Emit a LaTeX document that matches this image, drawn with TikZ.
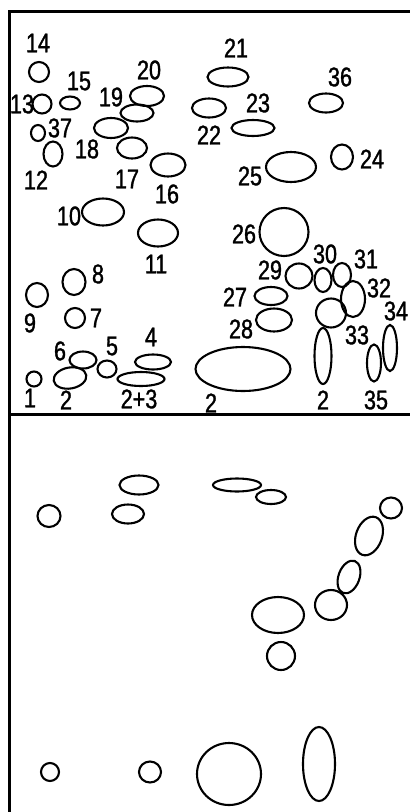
\documentclass[tikz,border=0pt]{standalone}
\usepackage{fontspec}
\setmainfont[FakeStretch=0.8,FakeBold=1.2]{Liberation Sans}
\begin{document}
\begin{tikzpicture}[x=1pt,y=-1pt,
  ell/.style={line width=2.1pt},
  frameline/.style={line width=3pt},
  lbl/.style={inner sep=0pt,font=\fontsize{27}{27}\selectfont}]
\useasboundingbox (0,0) rectangle (410,812);
% frame
\draw[frameline] (410,11.5) -- (9,11.5) -- (9,812);
\draw[frameline] (9,414) -- (410,414);
% upper panel ellipses
\draw[ell] (34,379) ellipse [x radius=7.5pt, y radius=7.5pt];
\draw[ell] (70,378) ellipse [x radius=16.5pt, y radius=10.5pt, rotate=10];
\draw[ell] (83,360) ellipse [x radius=13.5pt, y radius=8.5pt];
\draw[ell] (107,369) ellipse [x radius=9.5pt, y radius=8.5pt];
\draw[ell] (153,362) ellipse [x radius=18pt, y radius=7.5pt];
\draw[ell] (141,379) ellipse [x radius=23.5pt, y radius=7pt];
\draw[ell] (75,318) ellipse [x radius=10pt, y radius=10pt];
\draw[ell] (74,282) ellipse [x radius=11.5pt, y radius=13pt];
\draw[ell] (37,295) ellipse [x radius=11pt, y radius=12pt];
\draw[ell] (103,212) ellipse [x radius=21pt, y radius=13.5pt];
\draw[ell] (158,233) ellipse [x radius=20pt, y radius=13.5pt];
\draw[ell] (53,154) ellipse [x radius=9.5pt, y radius=12.5pt];
\draw[ell] (38,133) ellipse [x radius=7pt, y radius=8pt];
\draw[ell] (42,104) ellipse [x radius=9.5pt, y radius=9.5pt];
\draw[ell] (39,72) ellipse [x radius=10pt, y radius=10pt];
\draw[ell] (70,103) ellipse [x radius=10pt, y radius=6.5pt];
\draw[ell] (111,128) ellipse [x radius=17pt, y radius=10pt];
\draw[ell] (137,113) ellipse [x radius=16.5pt, y radius=8.5pt];
\draw[ell] (147,96) ellipse [x radius=17pt, y radius=10pt];
\draw[ell] (132,148) ellipse [x radius=15pt, y radius=10.5pt];
\draw[ell] (168,165) ellipse [x radius=17.5pt, y radius=11.5pt];
\draw[ell] (228,77) ellipse [x radius=20.5pt, y radius=9.5pt];
\draw[ell] (209,108) ellipse [x radius=17pt, y radius=9.5pt];
\draw[ell] (253,128) ellipse [x radius=21.5pt, y radius=8pt];
\draw[ell] (326,103) ellipse [x radius=17pt, y radius=9.5pt];
\draw[ell] (342,157) ellipse [x radius=11pt, y radius=12.5pt];
\draw[ell] (291,167) ellipse [x radius=25pt, y radius=15pt];
\draw[ell] (284,232) ellipse [x radius=24.5pt, y radius=24pt];
\draw[ell] (299,276) ellipse [x radius=13.5pt, y radius=12.5pt];
\draw[ell] (323,280) ellipse [x radius=8.5pt, y radius=12pt];
\draw[ell] (342,275) ellipse [x radius=9pt, y radius=12pt];
\draw[ell] (353,299) ellipse [x radius=12pt, y radius=18pt];
\draw[ell] (331,313) ellipse [x radius=15pt, y radius=14.5pt];
\draw[ell] (390,348) ellipse [x radius=7pt, y radius=23pt];
\draw[ell] (374,363) ellipse [x radius=7pt, y radius=18.5pt];
\draw[ell] (271,296) ellipse [x radius=16.5pt, y radius=9pt];
\draw[ell] (274,320) ellipse [x radius=18pt, y radius=11.5pt];
\draw[ell] (243,369) ellipse [x radius=47.5pt, y radius=22pt];
\draw[ell] (323,356) ellipse [x radius=8.5pt, y radius=28pt];
% lower panel ellipses
\draw[ell] (49,516) ellipse [x radius=11.5pt, y radius=11pt];
\draw[ell] (128,514) ellipse [x radius=16pt, y radius=9.5pt];
\draw[ell] (139,485) ellipse [x radius=19.5pt, y radius=9.5pt];
\draw[ell] (237,485) ellipse [x radius=24pt, y radius=6.5pt];
\draw[ell] (271,497) ellipse [x radius=15pt, y radius=7pt];
\draw[ell] (391,508) ellipse [x radius=11pt, y radius=10.5pt];
\draw[ell] (369,536) ellipse [x radius=13pt, y radius=20pt, rotate=-20];
\draw[ell] (349,577) ellipse [x radius=10.5pt, y radius=17pt, rotate=-20];
\draw[ell] (331,605) ellipse [x radius=16pt, y radius=15pt];
\draw[ell] (278,615) ellipse [x radius=26pt, y radius=18pt];
\draw[ell] (281,656) ellipse [x radius=14pt, y radius=14pt];
\draw[ell] (50,772) ellipse [x radius=9pt, y radius=9pt];
\draw[ell] (150,772) ellipse [x radius=11pt, y radius=10.5pt];
\draw[ell] (229,774) ellipse [x radius=32pt, y radius=31pt];
\draw[ell] (319,764) ellipse [x radius=16pt, y radius=37pt];
% labels
\node[lbl] (l14) at (38,43) {14};
\node[lbl] (l15) at (79,81) {15};
\node[lbl] (l13) at (22,104) {13};
\node[lbl] (l37) at (60,128) {37};
\node[lbl] (l12) at (36,180) {12};
\node[lbl] (l18) at (87,149) {18};
\node[lbl] (l19) at (111,97) {19};
\node[lbl] (l20) at (149,70) {20};
\node[lbl] (l17) at (127,179) {17};
\node[lbl] (l16) at (167,194) {16};
\node[lbl] (l21) at (236,48) {21};
\node[lbl] (l36) at (340,77) {36};
\node[lbl] (l23) at (258,103) {23};
\node[lbl] (l22) at (209,135) {22};
\node[lbl] (l24) at (372,159) {24};
\node[lbl] (l25) at (250,176) {25};
\node[lbl] (l10) at (69,216) {10};
\node[lbl] (l11) at (156,264) {11};
\node[lbl] (l8) at (98,274) {8};
\node[lbl] (l9) at (30,323) {9};
\node[lbl] (l7) at (96,318) {7};
\node[lbl] (l6) at (60,351) {6};
\node[lbl] (l5) at (112,346) {5};
\node[lbl] (l4) at (151,337) {4};
\node[lbl] (l1) at (30,398) {1};
\node[lbl] (l2a) at (66,400) {2};
\node[lbl] (l23b) at (139,399) {2+3};
\node[lbl] (l26) at (244,234) {26};
\node[lbl] (l30) at (325,254) {30};
\node[lbl] (l31) at (366,259) {31};
\node[lbl] (l29) at (270,270) {29};
\node[lbl] (l32) at (379,288) {32};
\node[lbl] (l27) at (235,297) {27};
\node[lbl] (l34) at (396,311) {34};
\node[lbl] (l28) at (241,329) {28};
\node[lbl] (l33) at (357,335) {33};
\node[lbl] (l2b) at (211,403) {2};
\node[lbl] (l2c) at (323,400) {2};
\node[lbl] (l35) at (376,400) {35};
\end{tikzpicture}
\end{document}
